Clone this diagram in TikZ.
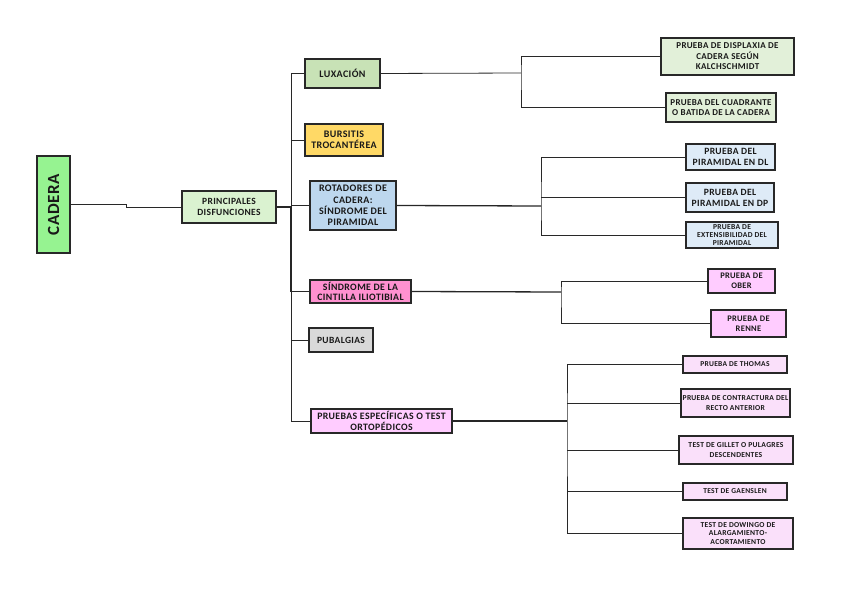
\documentclass[tikz,border=0pt]{standalone}
\usepackage{fontspec}
\setmainfont{Carlito}[LetterSpace=4]
\definecolor{lc}{RGB}{40,40,40}
\definecolor{cgreen}{RGB}{150,243,145}
\definecolor{pgreen}{RGB}{218,242,208}
\definecolor{lgreen}{RGB}{200,226,182}
\definecolor{vlgreen}{RGB}{226,240,217}
\definecolor{byellow}{RGB}{255,217,102}
\definecolor{rblue}{RGB}{189,215,238}
\definecolor{lblue}{RGB}{222,235,247}
\definecolor{cpink}{RGB}{255,145,208}
\definecolor{pgray}{RGB}{217,217,217}
\definecolor{ppink}{RGB}{255,204,255}
\definecolor{lpink}{RGB}{250,224,250}
\newcommand{\fs}[2]{\bfseries\fontsize{#1}{#2}\selectfont}
\tikzset{
  box/.style={draw=lc, line width=1.1pt, inner sep=0pt, align=center, font=\fs{9.5}{11}, text=black!90},
  conn/.style={draw=lc, line width=0.8pt},
  trunk/.style={draw=black!85, line width=1.3pt}
}
\begin{document}
\begin{tikzpicture}[x=1pt,y=-1pt]
\useasboundingbox (0,0) rectangle (848,599);
% level 0
\node[box, fill=cgreen, minimum width=33pt, minimum height=97pt] (cad) at (53.5,204.5)
  {\rotatebox{90}{\fontsize{17}{19}\selectfont CADERA}};
\node[box, fill=pgreen, minimum width=94pt, minimum height=32pt, font=\fs{9.5}{11.5}] (pd) at (229,207)
  {PRINCIPALES\\DISFUNCIONES};
% level 1
\node[box, fill=lgreen, minimum width=75pt, minimum height=29pt, font=\fs{10}{11}] (lux) at (342.5,73.5) {LUXACIÓN};
\node[box, fill=byellow, minimum width=78pt, minimum height=32pt, font=\fs{10}{11.5}] (bur) at (344,140) {BURSITIS\\TROCANTÉREA};
\node[box, fill=rblue, minimum width=86pt, minimum height=49pt, font=\fs{10}{11.3}] (rot) at (353,205.5) {ROTADORES DE\\CADERA:\\SÍNDROME DEL\\PIRAMIDAL};
\node[box, fill=cpink, minimum width=101pt, minimum height=23pt, font=\fs{9.8}{10.5}] (cin) at (360.5,291.5) {SÍNDROME DE LA\\CINTILLA ILIOTIBIAL};
\node[box, fill=pgray, minimum width=64pt, minimum height=24pt, font=\fs{9.5}{11}] (pub) at (341,340) {PUBALGIAS};
\node[box, fill=ppink, minimum width=141pt, minimum height=24pt, font=\fs{9.8}{11}] (pru) at (381.5,421) {PRUEBAS ESPECÍFICAS O TEST\\ORTOPÉDICOS};
% level 2
\node[box, fill=vlgreen, minimum width=133pt, minimum height=37pt, font=\fs{9}{10.5}] (dis) at (727.5,56.5) {PRUEBA DE DISPLAXIA DE\\CADERA SEGÚN\\KALCHSCHMIDT};
\node[box, fill=vlgreen, minimum width=110pt, minimum height=29pt, font=\fs{9}{10.5}] (cua) at (721,107.5) {PRUEBA DEL CUADRANTE\\O BATIDA DE LA CADERA};
\node[box, fill=lblue, minimum width=89pt, minimum height=26pt, font=\fs{9.6}{11}] (dl) at (730.5,157) {PRUEBA DEL\\PIRAMIDAL EN DL};
\node[box, fill=lblue, minimum width=88pt, minimum height=29pt, font=\fs{9.6}{11}] (dp) at (730,197.5) {PRUEBA DEL\\PIRAMIDAL EN DP};
\node[box, fill=lblue, minimum width=92pt, minimum height=26pt, font=\fs{7.6}{8.2}] (ext) at (732,235) {PRUEBA DE\\EXTENSIBILIDAD DEL\\PIRAMIDAL};
\node[box, fill=ppink, minimum width=67pt, minimum height=24pt, font=\fs{8.5}{10}] (obe) at (741.5,281) {PRUEBA DE\\OBER};
\node[box, fill=ppink, minimum width=75pt, minimum height=27pt, font=\fs{8.5}{10}] (ren) at (748.5,323.5) {PRUEBA DE\\RENNE};
\node[box, fill=lpink, minimum width=104pt, minimum height=17pt, font=\fs{7.5}{9}] (tho) at (735,364.5) {PRUEBA DE THOMAS};
\node[box, fill=lpink, minimum width=109pt, minimum height=28pt, font=\fs{7.6}{9.5}] (con) at (735.5,403) {PRUEBA DE CONTRACTURA DEL\\RECTO ANTERIOR};
\node[box, fill=lpink, minimum width=114pt, minimum height=28pt, font=\fs{7.6}{9.5}] (gil) at (736,450) {TEST DE GILLET O PULAGRES\\DESCENDENTES};
\node[box, fill=lpink, minimum width=104pt, minimum height=17pt, font=\fs{7.5}{9}] (gae) at (735,491.5) {TEST DE GAENSLEN};
\node[box, fill=lpink, minimum width=110pt, minimum height=31pt, font=\fs{7.6}{8.8}] (dow) at (738,533.5) {TEST DE DOWINGO DE\\ALARGAMIENTO-\\ACORTAMIENTO};
% connectors
\draw[conn] (cad.east) -- ++(56,0) |- (pd.west);
\coordinate (t1) at (291,207);
\draw[trunk] (pd.east) -- (t1);
\draw[conn] (t1 |- lux.west) -- (t1 |- pru.west);
\draw[trunk] (291,207) -- (t1 |- cin.west);
\foreach \n in {lux,bur,rot,cin,pub,pru} \draw[conn] (\n.west) -- (\n.west -| t1);
\coordinate (t2) at (521,73);
\draw[conn] (lux.east) -- (t2);
\draw[conn] (dis.west) -| (t2) |- (cua.west);
\coordinate (t3) at (541,206);
\draw[trunk] (rot.east) -- (t3);
\draw[conn] (dl.west) -| (t3) |- (ext.west);
\draw[conn] (dp.west) -- (dp.west -| t3);
\coordinate (t4) at (561,292);
\draw[trunk] (cin.east) -- (t4);
\draw[conn] (obe.west) -| (t4) |- (ren.west);
\coordinate (t5) at (567,421);
\draw[trunk] (pru.east) -- (t5);
\draw[conn] (tho.west) -| (t5) |- (dow.west);
\foreach \n in {con,gil,gae} \draw[conn] (\n.west) -- (\n.west -| t5);
\end{tikzpicture}
\end{document}
